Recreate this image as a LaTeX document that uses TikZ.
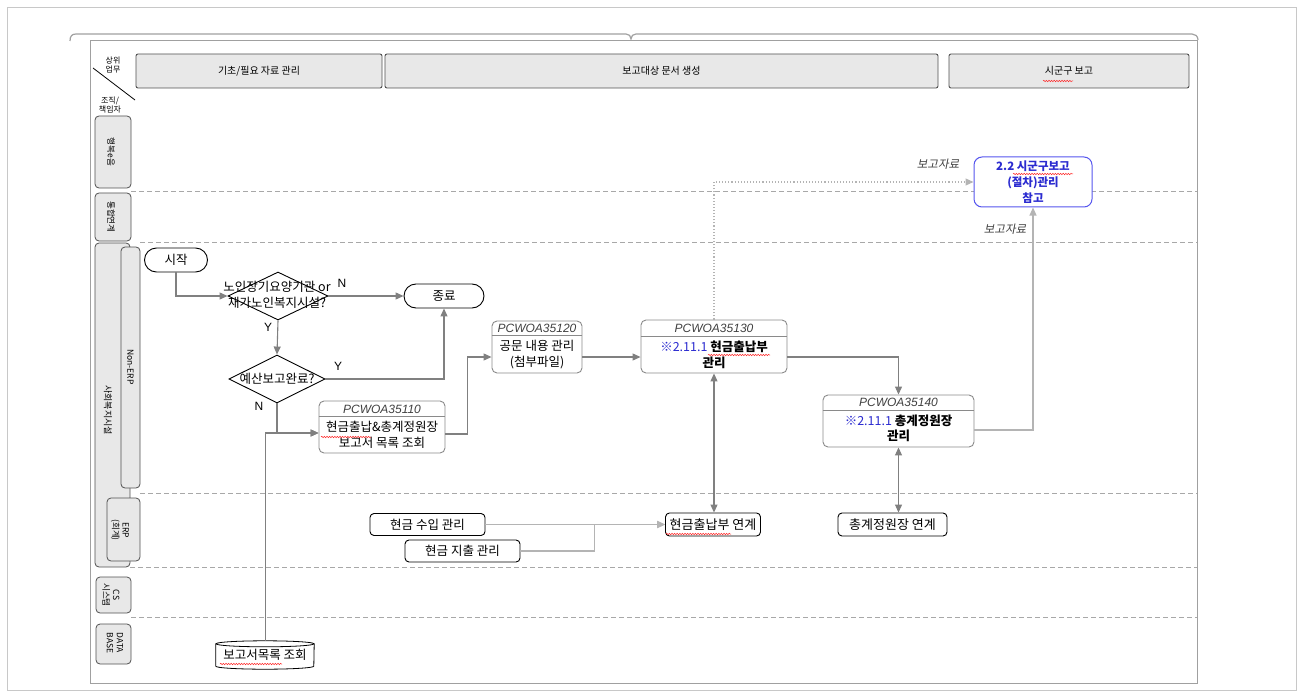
\documentclass[tikz,border=0pt]{standalone}
\usepackage{fontspec}
\setmainfont{Noto Sans CJK KR}
\newfontfamily\arialish{Liberation Sans}
\newfontfamily\krslant{Noto Sans CJK KR}[FakeSlant=0.2]
\usetikzlibrary{arrows.meta,shapes.geometric,decorations.pathmorphing}

\definecolor{pageedge}{HTML}{C8C8C8}
\definecolor{sheetedge}{HTML}{A0A0A0}
\definecolor{boxfill}{HTML}{E8E8E8}
\definecolor{boxedge}{HTML}{505050}
\definecolor{wire}{HTML}{808080}
\definecolor{softwire}{HTML}{B4B4B4}
\definecolor{lanedash}{HTML}{A8A8A8}
\definecolor{procedge}{HTML}{8A8A8A}
\definecolor{pcgray}{HTML}{404040}
\definecolor{refblue}{HTML}{2B2BD0}
\definecolor{refedge}{HTML}{5555EE}

\newcommand{\nodefs}{\fontsize{12.5}{15.5}\selectfont}
\newcommand{\hdrfs}{\fontsize{10}{12}\selectfont}
\newcommand{\lanefs}{\fontsize{8.5}{10}\selectfont}
\newcommand{\pcfs}{\arialish\itshape\fontsize{12}{14}\selectfont}
\newcommand{\ynfs}{\arialish\fontsize{12}{14}\selectfont}
\newcommand{\notefs}{\krslant\fontsize{11.5}{13}\selectfont}

\begin{document}
\begin{tikzpicture}[x=1pt,y=-1pt,
  sheet/.style={draw=sheetedge, line width=0.9pt},
  bracket/.style={draw=sheetedge, line width=1.2pt},
  hdrbox/.style={draw=boxedge, fill=boxfill, rounded corners=2pt, line width=0.9pt, inner sep=0pt, font=\hdrfs},
  corner/.style={font=\fontsize{8}{9.5}\selectfont, align=center, inner sep=0pt},
  lanebox/.style={draw=boxedge, fill=boxfill, rounded corners=4pt, line width=0.8pt, inner sep=0pt},
  lanetxt/.style={rotate=-90, font=\lanefs, align=center, inner sep=0pt},
  lanesep/.style={draw=lanedash, dash pattern=on 5pt off 3pt, line width=0.8pt},
  term/.style={draw=black, fill=white, rounded corners=12pt, minimum height=24pt, line width=0.9pt, font=\nodefs, inner sep=0pt},
  decide/.style={diamond, aspect=2, draw=black, fill=white, line width=0.9pt, inner sep=0pt},
  flowtxt/.style={font=\nodefs, align=center, inner sep=0pt},
  procbox/.style={draw=procedge, fill=white, rounded corners=5pt, line width=0.9pt, inner sep=0pt},
  pchead/.style={font=\pcfs, text=pcgray, inner sep=0pt},
  bodytxt/.style={font=\nodefs, align=center, inner sep=0pt},
  erpbox/.style={draw=black, fill=white, rounded corners=4pt, line width=0.9pt, inner sep=0pt, font=\nodefs},
  refbox/.style={draw=refedge, fill=white, rounded corners=8pt, line width=1pt, inner sep=0pt,
    font=\fontsize{11.5}{16}\selectfont\bfseries, text=refblue, align=center},
  conn/.style={draw=wire, line width=1.1pt, -{Triangle[length=8pt,width=7pt]}},
  conn2/.style={draw=wire, line width=1.1pt, {Triangle[length=8pt,width=7pt]}-{Triangle[length=8pt,width=7pt]}},
  connsoft/.style={draw=softwire, line width=1.1pt, -{Triangle[length=8pt,width=7pt]}},
  conndot/.style={draw=softwire, line width=1.1pt, dotted, -{Triangle[length=8pt,width=7pt]}},
  connerp/.style={draw=softwire, line width=1.6pt, -{Triangle[length=8pt,width=7pt]}},
  dbwire/.style={draw=wire, line width=0.9pt},
  note/.style={font=\notefs, text=pcgray, inner sep=0pt},
  yn/.style={font=\ynfs, inner sep=0pt},
  squig/.style={draw=red!85, line width=0.5pt, decorate, decoration={snake, amplitude=0.7pt, segment length=2.6pt}}
]
\useasboundingbox (0,0) rectangle (1303,695);

% page edge and sheet frame
\draw[draw=pageedge, line width=0.8pt] (7,7) rectangle (1296,690);
\draw[bracket] (70,41) .. controls (70,36) and (72,34) .. (76,34) -- (626,34)
  .. controls (629,34) and (631,36) .. (631,39) .. controls (631,36) and (633,34) .. (636,34)
  -- (1192,34) .. controls (1195,34) and (1198,36) .. (1198,40);
\draw[sheet] (90,40) rectangle (1197,683);

% column headers
\node[hdrbox, minimum width=246pt, minimum height=34pt] (h1) at (259,71) {기초/필요 자료 관리};
\node[hdrbox, minimum width=553pt, minimum height=34pt] (h2) at (661.5,71) {보고대상 문서 생성};
\node[hdrbox, minimum width=240pt, minimum height=34pt] (h3) at (1069,71) {시군구 보고};
\draw[draw=black, line width=0.8pt] (93,68) -- (135,100);
\node[corner] (ctop) at (113,65) {상위\\업무};
\node[corner] (cbot) at (110,105) {조직/\\책임자};

% lane separators
\draw[lanesep] (131,191) -- (1197,191);
\draw[lanesep] (140,242) -- (1197,242);
\draw[lanesep] (140,493) -- (1197,493);
\draw[lanesep] (130,567) -- (1197,567);
\draw[lanesep] (131,617) -- (1197,617);

% lane labels
\node[lanebox, minimum width=36pt, minimum height=72pt] (l1) at (113,152) {};
\node[lanetxt] at (111,152) {행복e음};
\node[lanebox, minimum width=36pt, minimum height=48pt] (l2) at (113,217) {};
\node[lanetxt] at (111,217) {통합연계};
\node[lanebox, minimum width=35pt, minimum height=324pt] (l3) at (112.5,405) {};
\node[lanetxt, font=\fontsize{9}{10.5}\selectfont] at (108,410) {사회복지시설};
\node[lanebox, minimum width=19pt, minimum height=241pt] (l3a) at (130.5,367.5) {};
\node[lanetxt] at (130.5,367) {Non-ERP};
\node[lanebox, minimum width=33pt, minimum height=63pt] (l3b) at (123.5,529.5) {};
\node[lanetxt] at (120,530) {ERP\\(회계)};
\node[lanebox, minimum width=35pt, minimum height=36pt] (l4) at (113.5,595) {};
\node[lanetxt] at (111,595) {CS\\시스템};
\node[lanebox, minimum width=35pt, minimum height=40pt] (l5) at (113.5,644) {};
\node[lanetxt] at (115,643) {DATA\\BASE};

% decision flow
\node[term, minimum width=63pt] (start) at (176,260) {시작};
\node[term, minimum width=80pt] (stop) at (444,296) {종료};
\node[decide, minimum width=100pt, minimum height=48pt] (d1) at (278,296) {};
\node[flowtxt] at (277,295) {노인장기요양기관 or\\재가노인복지시설?};
\node[decide, minimum width=96pt, minimum height=48pt] (d2) at (277,379) {};
\node[flowtxt] at (277,379) {예산보고완료?};

% process boxes
\node[procbox, minimum width=126pt, minimum height=52pt] (p110) at (382,427) {};
\draw[draw=procedge, line width=0.9pt] ([yshift=-16pt]p110.north west) -- ([yshift=-16pt]p110.north east);
\node[pchead] at ([yshift=-8.5pt]p110.north) {PCWOA35110};
\node[bodytxt] at ([yshift=-8pt]p110.center) {현금출납\&총계정원장\\보고서 목록 조회};

\node[procbox, minimum width=90pt, minimum height=52pt] (p120) at (537,347) {};
\draw[draw=procedge, line width=0.9pt] ([yshift=-15pt]p120.north west) -- ([yshift=-15pt]p120.north east);
\node[pchead] at ([yshift=-8pt]p120.north) {PCWOA35120};
\node[bodytxt] at ([yshift=-7.5pt]p120.center) {공문 내용 관리\\(첨부파일)};

\node[procbox, minimum width=146pt, minimum height=53pt] (p130) at (714,346.5) {};
\draw[draw=procedge, line width=0.9pt] ([yshift=-17pt]p130.north west) -- ([yshift=-17pt]p130.north east);
\node[pchead] at ([yshift=-8.5pt]p130.north) {PCWOA35130};
\node[bodytxt] at ([yshift=-8.5pt]p130.center) {{\color{refblue}※2.11.1} \textbf{현금출납부}\\\textbf{관리}};

\node[procbox, minimum width=151pt, minimum height=52pt] (p140) at (898.5,421) {};
\draw[draw=procedge, line width=0.9pt] ([yshift=-15.5pt]p140.north west) -- ([yshift=-15.5pt]p140.north east);
\node[pchead] at ([yshift=-8pt]p140.north) {PCWOA35140};
\node[bodytxt] at ([yshift=-7.5pt]p140.center) {{\color{refblue}※2.11.1} \textbf{총계정원장}\\\textbf{관리}};

\node[refbox, minimum width=118pt, minimum height=50pt] (box22) at (1033,182) {2.2 시군구보고\\(절차)관리\\참고};

% ERP lane
\node[erpbox, minimum width=115pt, minimum height=22pt] (inc) at (427.5,524.5) {현금 수입 관리};
\node[erpbox, minimum width=115pt, minimum height=22pt] (exp) at (462.5,551) {현금 지출 관리};
\node[erpbox, minimum width=95pt, minimum height=23pt, font=\fontsize{13}{15}\selectfont] (link1) at (713,524.5) {현금출납부 연계};
\node[erpbox, minimum width=109pt, minimum height=23pt, font=\fontsize{13}{15}\selectfont] (link2) at (892.5,524.5) {총계정원장 연계};

% database
\node[inner sep=0pt, minimum width=98pt, minimum height=22pt, font=\nodefs] (dbq) at (265,655) {보고서목록 조회};
\draw[draw=black, line width=0.8pt, fill=white] (dbq.north west) -- (dbq.south west)
  arc[start angle=180, end angle=360, x radius=49pt, y radius=3pt] -- (dbq.north east);
\draw[draw=black, line width=0.8pt] (dbq.north) ellipse[x radius=49pt, y radius=3pt];
\node[inner sep=0pt, font=\nodefs] at (dbq.center) {보고서목록 조회};

% connectors
\draw[conn] (start.south) |- (d1.west);
\draw[conn] (d1.east) -- (stop.west);
\draw[conn] (d1.south) -- (d2.north);
\draw[conn] (d2.east) -| (stop.south);
\draw[dbwire] ([yshift=3pt]dbq.north) -- ([yshift=-6pt]dbq.north |- p110.west);
\draw[conn] ([yshift=-6pt]dbq.north |- p110.west) -- ([yshift=-6pt]p110.west);
\draw[conn] (d2.south) |- ([yshift=-6pt]p110.west);
\draw[conn] ([yshift=-7pt]p110.east) -- ++(22,0) |- ([yshift=-10pt]p120.west);
\draw[conn] ([yshift=-10pt]p120.east) -- ([yshift=-10pt]p120.east -| p130.west);
\draw[conn] ([yshift=-10.5pt]p130.east) -| (p140.north);
\draw[connsoft] ([yshift=-9pt]p140.east) -| (box22.south);
\draw[conndot] (p130.north) |- (box22.west);
\draw[conn2] (p130.south) -- (p130.south |- link1.north);
\draw[conn2] (p140.south) -- (p140.south |- link2.north);
\draw[connerp] (inc.east) -- (link1.west);
\draw[connerp] (exp.east) -- ++(74,0) |- (link1.west);

% connector labels
\node[yn] at (342,283) {N};
\node[yn] at (268,327) {Y};
\node[yn] at (338,366) {Y};
\node[yn] at (259,406) {N};
\node[note] at (938,164) {보고자료};
\node[note] at (1005,229) {보고자료};

% spell-check marks
\draw[squig] (1043,81) -- (1073,81);
\draw[squig] (321,437) -- (371,437);
\draw[squig] (708,355) -- (770,355);
\draw[squig] (1013,174) -- (1073,174);
\draw[squig] (666,534) -- (731,534);
\draw[squig] (220,664) -- (282,664);
\end{tikzpicture}
\end{document}
